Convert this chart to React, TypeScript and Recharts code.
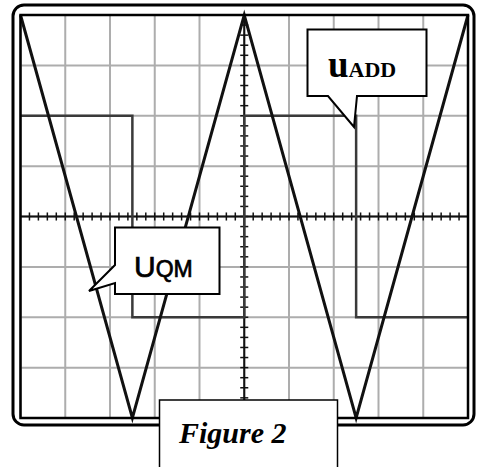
import React from "react";
import { LineChart, Line, XAxis, YAxis, CartesianGrid, ReferenceLine } from "recharts";

// Screen divisions (10 horizontal x 8 vertical)
const xDivisions = [0, 1, 2, 3, 4, 5, 6, 7, 8, 9, 10];
const yDivisions = [-4, -3, -2, -1, 0, 1, 2, 3, 4];

// Triangle trace (u_QM), in divisions
const triangleTimes = [0, 2.5, 5, 7.5, 10];
const triangleVolts = [4, -4, 4, -4, 4];

// Square trace (u_ADD), in divisions
const squareTimes = [0, 2.5, 2.5, 5, 5, 7.5, 7.5, 10];
const squareVolts = [2, 2, -2, -2, 2, 2, -2, -2];

// Minor graduation step on the centre axes
const minorStep = 0.2;

const triangleData = triangleTimes.map((t, i) => ({ t, v: triangleVolts[i] }));
const squareData = squareTimes.map((t, i) => ({ t, v: squareVolts[i] }));

const xMinor: number[] = [];
for (let k = 1; k < 50; k++) xMinor.push(+(k * minorStep).toFixed(2));
const yMinor: number[] = [];
for (let k = -19; k < 20; k++) yMinor.push(+(k * minorStep).toFixed(2));

const W = 481;
const H = 467;

export default function App() {
  return (
    <div style={{ position: "absolute", left: 0, top: 0, width: W, height: H, background: "#fff" }}>
      <LineChart
        width={W}
        height={H}
        margin={{ top: 15, left: 20.5, right: 13, bottom: 49 }}
      >
        <XAxis type="number" dataKey="t" domain={[0, 10]} ticks={xDivisions} hide />
        <YAxis type="number" dataKey="v" domain={[-4, 4]} ticks={yDivisions} hide />
        <CartesianGrid stroke="#adadad" strokeWidth={2} />
        <ReferenceLine x={5} stroke="#111" strokeWidth={2} />
        <ReferenceLine y={0} stroke="#111" strokeWidth={2} />
        {xMinor.map((x) => (
          <ReferenceLine
            key={"xm" + x}
            segment={[{ x, y: -0.08 }, { x, y: 0.08 }]}
            stroke="#111"
            strokeWidth={1.5}
          />
        ))}
        {yMinor.map((y) => (
          <ReferenceLine
            key={"ym" + y}
            segment={[{ x: 4.91, y }, { x: 5.09, y }]}
            stroke="#111"
            strokeWidth={1.5}
          />
        ))}
        <Line
          data={squareData}
          dataKey="v"
          type="linear"
          stroke="#3a3a3a"
          strokeWidth={2.5}
          dot={false}
          isAnimationActive={false}
        />
        <Line
          data={triangleData}
          dataKey="v"
          type="linear"
          stroke="#111"
          strokeWidth={3}
          dot={false}
          isAnimationActive={false}
        />
      </LineChart>
      <svg
        width={W}
        height={H}
        style={{ position: "absolute", left: 0, top: 0, pointerEvents: "none" }}
      >
        {/* screen bezel */}
        <rect x={13} y={5} width={461} height={420} rx={11} ry={11} fill="none" stroke="#000" strokeWidth={3} />
        <rect x={20.5} y={15} width={447.5} height={403} fill="none" stroke="#000" strokeWidth={2.5} />

        {/* u_ADD callout */}
        <path
          d="M307.5,29.5 H426.5 V96 H357 L354,127 L328,96 H307.5 Z"
          fill="#fff"
          stroke="#000"
          strokeWidth={2}
        />
        <text x={328} y={77} fontFamily="'Liberation Serif', 'Times New Roman', serif" fontWeight="bold" fill="#000">
          <tspan fontSize={37}>u</tspan>
          <tspan fontSize={22}>ADD</tspan>
        </text>

        {/* u_QM callout */}
        <path
          d="M115,227.5 H219.5 V294 H115 V283 L89,291 L115,265 Z"
          fill="#fff"
          stroke="#000"
          strokeWidth={2}
        />
        <text
          x={134}
          y={277}
          fontFamily="'Liberation Sans', Arial, sans-serif"
          fill="#000"
          stroke="#000"
          strokeWidth={0.7}
        >
          <tspan fontSize={30}>U</tspan>
          <tspan fontSize={23}>QM</tspan>
        </text>

        {/* caption */}
        <rect x={159.5} y={400} width={178} height={72} fill="#fff" stroke="#000" strokeWidth={1.5} />
        <text
          x={179}
          y={443}
          fontFamily="'Liberation Serif', 'Times New Roman', serif"
          fontWeight="bold"
          fontStyle="italic"
          fontSize={30}
          fill="#000"
        >
          Figure 2
        </text>
      </svg>
    </div>
  );
}
